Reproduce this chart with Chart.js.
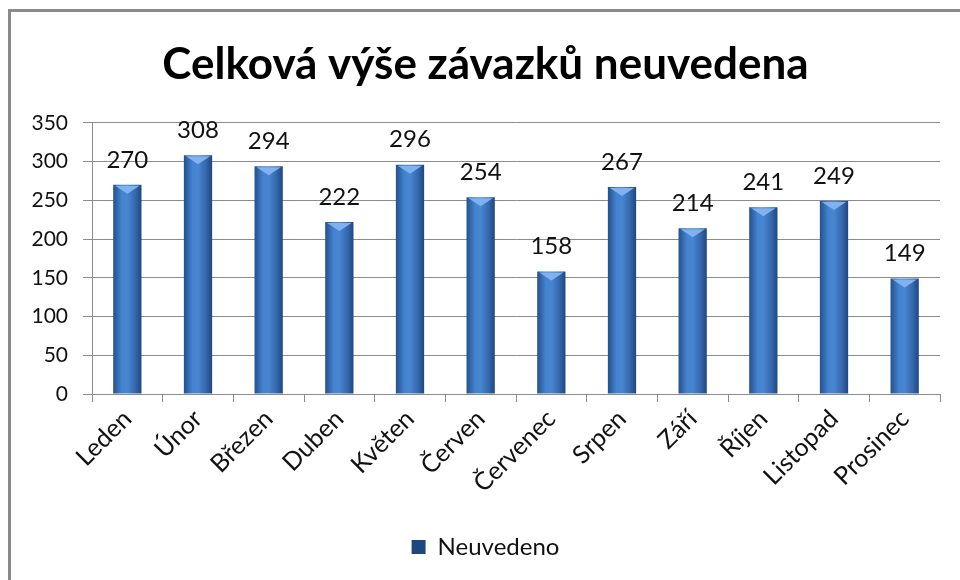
<!DOCTYPE html>
<html>
<head>
<meta charset="utf-8">
<script src="https://cdn.jsdelivr.net/npm/chart.js@4"></script>
<style>
  html, body { margin: 0; padding: 0; background: #fff; }
  #frame {
    position: absolute; left: 8px; top: 9px; width: 980px; height: 600px;
    border-left: 3px solid #8a8a8a; border-top: 3px solid #8a8a8a;
  }
  #wrap { position: absolute; left: 0; top: 0; width: 960px; height: 580px; }
</style>
</head>
<body>
<div id="frame"></div>
<div id="wrap"><canvas id="myChart" width="960" height="580"></canvas></div>
<script>
'use strict';

const months = ['Leden', 'Únor', 'Březen', 'Duben', 'Květen', 'Červen',
  'Červenec', 'Srpen', 'Září', 'Říjen', 'Listopad', 'Prosinec'];
const amounts = [270, 308, 294, 222, 296, 254, 158, 267, 214, 241, 249, 149];
const seriesName = 'Neuvedeno';
const chartTitle = 'Celková výše závazků neuvedena';

const fontFamily = 'Lato, "Open Sans", sans-serif';
const barShare = 0.4;

// horizontal gradient per bar so it looks like a cylinder
const barFill = (context) => {
  const chart = context.chart;
  const xs = chart.scales.x;
  if (context.type !== 'data' || !xs) {
    return '#3a70b8';
  }
  const cx = xs.getPixelForValue(context.dataIndex);
  const w = xs.width / months.length * barShare;
  if (!isFinite(cx) || !isFinite(w) || w <= 0) {
    return '#3a70b8';
  }
  const grad = chart.ctx.createLinearGradient(cx - w / 2, 0, cx + w / 2, 0);
  grad.addColorStop(0, '#23508e');
  grad.addColorStop(0.3, '#4483cf');
  grad.addColorStop(0.5, '#4886d2');
  grad.addColorStop(0.78, '#3568ad');
  grad.addColorStop(1, '#1f477f');
  return grad;
};

// top cap of each bar + value labels
const barLook = {
  id: 'barLook',
  afterDatasetsDraw(chart) {
    const ctx = chart.ctx;
    const meta = chart.getDatasetMeta(0);
    ctx.save();
    meta.data.forEach((bar, i) => {
      const left = bar.x - bar.width / 2;
      const right = bar.x + bar.width / 2;
      ctx.fillStyle = '#7fb2ee';
      ctx.beginPath();
      ctx.moveTo(left + 2, bar.y + 1);
      ctx.lineTo(right - 2, bar.y + 1);
      ctx.lineTo(bar.x, bar.y + 9);
      ctx.closePath();
      ctx.fill();

      ctx.fillStyle = '#111';
      ctx.font = '24px ' + fontFamily;
      ctx.textAlign = 'center';
      ctx.textBaseline = 'middle';
      ctx.fillText(amounts[i], bar.x, bar.y - 25);
    });
    ctx.restore();
  }
};

const ctx = document.querySelector('#myChart').getContext('2d');
const myChart = new Chart(ctx, {
  type: 'bar',
  data: {
    labels: months,
    datasets: [{
      label: seriesName,
      data: amounts,
      backgroundColor: barFill,
      borderWidth: 0,
      categoryPercentage: 1,
      barPercentage: barShare
    }]
  },
  options: {
    responsive: false,
    animation: false,
    layout: {
      padding: { left: 31, right: 20, top: 20, bottom: 11 }
    },
    scales: {
      y: {
        min: 0,
        max: 350,
        ticks: {
          stepSize: 50,
          color: '#111',
          font: { family: fontFamily, size: 21 },
          padding: 15
        },
        grid: { color: '#8c8c8c', tickLength: 9 },
        border: { color: '#8c8c8c' },
        afterFit(scale) {
          scale.width = 61;
        }
      },
      x: {
        ticks: {
          minRotation: 45,
          maxRotation: 45,
          color: '#111',
          font: { family: fontFamily, size: 25 },
          padding: 2
        },
        grid: { drawOnChartArea: false, color: '#8c8c8c', tickLength: 8 },
        border: { color: '#8c8c8c' },
        afterFit(scale) {
          // rotated labels may hang left of the axis; keep the plot where the y axis puts it
          scale.height = 131;
          scale.paddingLeft = 0;
          scale.paddingRight = 0;
        }
      }
    },
    plugins: {
      title: {
        display: true,
        text: chartTitle,
        color: '#000',
        font: { family: fontFamily, size: 44, weight: 'bold' },
        padding: { top: 18, bottom: 32 }
      },
      legend: {
        position: 'bottom',
        labels: {
          color: '#111',
          font: { family: fontFamily, size: 24 },
          boxWidth: 14,
          boxHeight: 14,
          padding: 10
        }
      },
      tooltip: { enabled: false }
    }
  },
  plugins: [barLook]
});
</script>
</body>
</html>
